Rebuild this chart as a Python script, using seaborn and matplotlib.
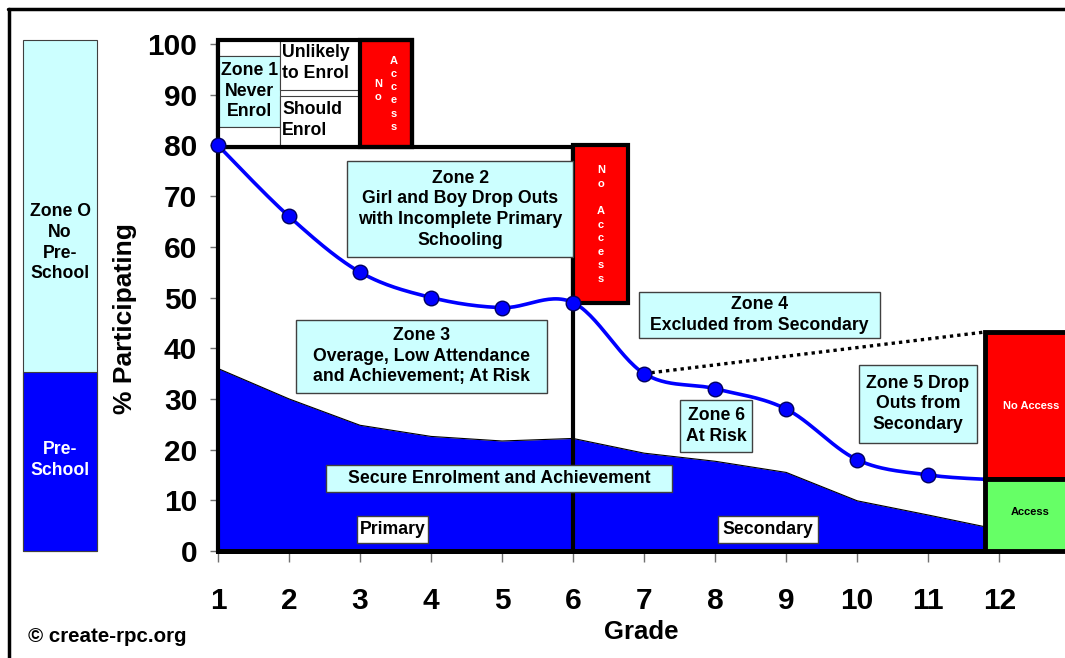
import numpy as np
import pandas as pd
import matplotlib
matplotlib.use("Agg")
import matplotlib.pyplot as plt
import seaborn as sns
from matplotlib.patches import Rectangle
from matplotlib.lines import Line2D

# Chart data
grades = [1, 2, 3, 4, 5, 6, 7, 8, 9, 10, 11, 12]
participating = [80, 66, 55, 50, 48, 49, 35, 32, 28, 18, 15, 14]
secure = [36, 30, 24.8, 22.6, 21.7, 22.2, 19.3, 17.7, 15.5, 9.9, 7.1, 4.2]
preschool = [35]
no_preschool = [100]
right_no_access_top = 43.2
right_access_top = 14.3
y_ticks = [0, 10, 20, 30, 40, 50, 60, 70, 80, 90, 100]

CYAN = "#CCFFFF"
BLUE = "#0000FF"
RED = "#FF0000"
GREEN = "#66FF66"
FS = 12.7
LS = 1.28

sns.set_theme(style="white")
plt.rcParams["font.family"] = ["Liberation Sans", "DejaVu Sans"]
plt.rcParams["font.weight"] = "bold"
plt.rcParams["text.color"] = "black"
plt.rcParams["xtick.color"] = "black"
plt.rcParams["ytick.color"] = "black"
plt.rcParams["axes.labelcolor"] = "black"


# Excel-style smoothed line (bezier through the points)
def smooth(xs, ys, n=30):
    P = np.column_stack([xs, ys]).astype(float)
    E = np.vstack([P[0], P, P[-1]])
    out = []
    t = np.linspace(0, 1, n)[:, None]
    for i in range(len(P) - 1):
        p0, p1, p2, p3 = E[i], E[i + 1], E[i + 2], E[i + 3]
        c1 = p1 + (p2 - p0) / 6
        c2 = p2 - (p3 - p1) / 6
        seg = (1 - t) ** 3 * p1 + 3 * (1 - t) ** 2 * t * c1 + 3 * (1 - t) * t ** 2 * c2 + t ** 3 * p2
        out.append(seg if i == 0 else seg[1:])
    return np.vstack(out)


def box(ax, x0, x1, y0, y1, face, edge="#404040", lw=1.0, z=4):
    ax.add_patch(Rectangle((x0, y0), x1 - x0, y1 - y0, facecolor=face, edgecolor=edge,
                           linewidth=lw, zorder=z, clip_on=False))


def label_box(ax, x0, x1, y0, y1, text, face=CYAN, size=FS):
    box(ax, x0, x1, y0, y1, face)
    ax.text((x0 + x1) / 2, (y0 + y1) / 2, text, ha="center", va="center", fontsize=size,
            fontweight="bold", zorder=5, linespacing=LS)


fig = plt.figure(figsize=(10.65, 6.58), dpi=100)
ax = fig.add_axes([0.2047, 0.1626, 0.7596, 0.7705])
axl = fig.add_axes([0.0216, 0.1626, 0.0695, 0.7766])

# Left pre-school bar
sns.barplot(x=["pre"], y=no_preschool, color=CYAN, width=1, edgecolor="#404040",
            linewidth=0.8, saturation=1, ax=axl, clip_on=False)
sns.barplot(x=["pre"], y=preschool, color=BLUE, width=1, edgecolor="#404040",
            linewidth=0.8, saturation=1, ax=axl, clip_on=False)
axl.set_xlim(-0.5, 0.5)
axl.set_ylim(0, 100)
axl.axis("off")
axl.text(0, 60.3, "Zone O\nNo\nPre-\nSchool", ha="center", va="center", fontsize=FS,
         fontweight="bold", linespacing=LS)
axl.text(0, 17.8, "Pre-\nSchool", ha="center", va="center", fontsize=FS,
         fontweight="bold", color="white", linespacing=LS)

# Secure enrolment area
ax.fill_between(grades, secure, 0, color=BLUE, linewidth=0, zorder=1)
ax.plot(grades, secure, color="black", lw=0.8, zorder=1.5)

# Zone frames
ax.plot([1, 6], [79.7, 79.7], color="black", lw=3, zorder=3, solid_capstyle="butt")
ax.plot([6, 6], [0, 79.7], color="black", lw=3, zorder=3, solid_capstyle="butt")

# Zone 1
box(ax, 1, 1.87, 97.6, 100.8, "white", lw=0.8)
box(ax, 1, 1.87, 83.6, 97.6, CYAN, lw=0.8)
box(ax, 1, 1.87, 79.7, 83.6, "white", lw=0.8)
box(ax, 1.87, 3.0, 90.9, 100.8, "white", lw=0.8)
box(ax, 1.87, 3.0, 79.7, 89.7, "white", lw=0.8)
box(ax, 3.0, 3.73, 79.7, 100.8, RED, edge="black", lw=3)
box(ax, 1, 3.73, 79.7, 100.8, "none", edge="black", lw=3, z=4.5)
ax.text(1.44, 90.7, "Zone 1\nNever\nEnrol", ha="center", va="center", fontsize=FS,
        fontweight="bold", zorder=5, linespacing=LS)
ax.text(1.905, 96.2, "Unlikely\nto Enrol", ha="left", va="center", fontsize=FS,
        fontweight="bold", zorder=5, linespacing=LS)
ax.text(1.905, 85.0, "Should\nEnrol", ha="left", va="center", fontsize=FS,
        fontweight="bold", zorder=5, linespacing=LS)
ax.text(3.25, 90.9, "N\no", ha="center", va="center", fontsize=8, color="white",
        fontweight="bold", zorder=5, linespacing=1.4)
ax.text(3.48, 90.2, "A\nc\nc\ne\ns\ns", ha="center", va="center", fontsize=8,
        color="white", fontweight="bold", zorder=5, linespacing=1.4)

# No access between primary and secondary
box(ax, 6.0, 6.77, 49, 80.1, RED, edge="black", lw=3)
ax.text(6.39, 64.4, "N\no\n\nA\nc\nc\ne\ns\ns", ha="center", va="center", fontsize=8,
        color="white", fontweight="bold", zorder=5, linespacing=1.45)

# Text boxes
label_box(ax, 2.82, 6.0, 58.0, 76.9, "Zone 2\nGirl and Boy Drop Outs\nwith Incomplete Primary\nSchooling")
label_box(ax, 2.10, 5.63, 31.2, 45.6, "Zone 3\nOverage, Low Attendance\nand Achievement; At Risk")
label_box(ax, 2.52, 7.39, 11.6, 17.0, "Secure Enrolment and Achievement")
label_box(ax, 2.96, 3.96, 1.6, 6.9, "Primary", face="white")
label_box(ax, 8.04, 9.45, 1.6, 6.9, "Secondary", face="white")
label_box(ax, 6.93, 10.32, 42.0, 51.1, "Zone 4\nExcluded from Secondary")
label_box(ax, 7.51, 8.52, 19.5, 29.8, "Zone 6\nAt Risk")
label_box(ax, 10.03, 11.68, 21.3, 36.7, "Zone 5 Drop\nOuts from\nSecondary")

# Participation curve
curve = smooth(grades, participating)
sns.lineplot(x=curve[:, 0], y=curve[:, 1], sort=False, color=BLUE, lw=2.6, ax=ax, zorder=6)
sns.scatterplot(x=grades, y=participating, s=110, color=BLUE, edgecolor="#000060",
                linewidth=1, ax=ax, zorder=6.5, clip_on=False)

# Dotted line to the right-hand box
ax.plot([grades[6], 11.8], [participating[6], right_no_access_top], color="black",
        lw=2.4, ls=(0, (1, 1.2)), zorder=6)

# Right-hand access box
box(ax, 11.8, 13.5, right_access_top, right_no_access_top, RED, edge="black", lw=3.5, z=7)
box(ax, 11.8, 13.5, 0, right_access_top, GREEN, edge="black", lw=3.5, z=7)
ax.text(12.45, 28.7, "No Access", ha="center", va="center", fontsize=8, color="white",
        fontweight="bold", zorder=8, clip_on=False)
ax.text(12.44, 7.7, "Access", ha="center", va="center", fontsize=8, color="black",
        fontweight="bold", zorder=8, clip_on=False)

# Axes styling
ax.set_xlim(1, 12.39)
ax.set_ylim(0, 100)
ax.set_xticks(grades)
ax.set_yticks(y_ticks)
ax.set_xlabel("")
ax.set_ylabel("")
for s in ["top", "right"]:
    ax.spines[s].set_visible(False)
ax.spines["left"].set_color("black")
ax.spines["left"].set_linewidth(3)
ax.spines["bottom"].set_color("black")
ax.spines["bottom"].set_linewidth(3.6)
ax.tick_params(axis="x", direction="out", length=8, width=1, color="#707070",
               pad=18, labelsize=21.5, bottom=True, labelcolor="black")
ax.tick_params(axis="y", direction="out", length=6, width=1, color="#707070",
               pad=9, labelsize=21.5, left=True, labelcolor="black")
for lab in ax.get_xticklabels() + ax.get_yticklabels():
    lab.set_fontweight("bold")
ax.grid(False)

fig.text(125 / 1065, 1 - 319 / 658, "% Participating", rotation=90, ha="center",
         va="center", fontsize=19, fontweight="bold")
fig.text(641 / 1065, 1 - 632 / 658, "Grade", ha="center", va="center", fontsize=18.5,
         fontweight="bold")
fig.text(28 / 1065, 1 - 637 / 658, "\u00a9 create-rpc.org", ha="left", va="center",
         fontsize=14.8, fontweight="bold")

# Outer frame
fig.add_artist(Line2D([8 / 1065, 1.0], [1 - 9 / 658, 1 - 9 / 658], color="black",
                      lw=2.5, transform=fig.transFigure))
fig.add_artist(Line2D([9 / 1065, 9 / 1065], [0, 1 - 9 / 658], color="black",
                      lw=2.5, transform=fig.transFigure))

fig.savefig("out.png", dpi=100)
